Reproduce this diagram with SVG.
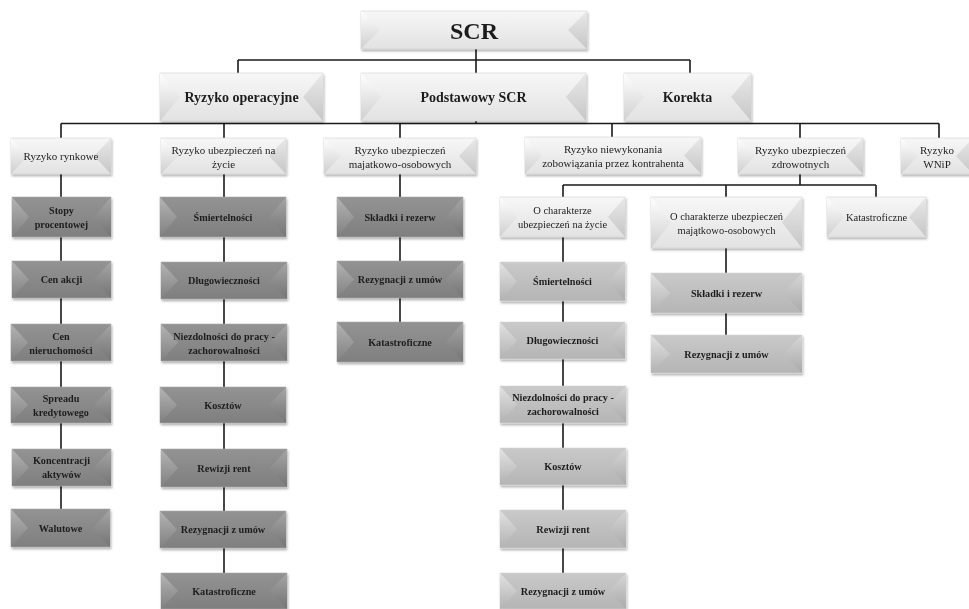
<svg xmlns="http://www.w3.org/2000/svg" width="969" height="609" viewBox="0 0 969 609">
<defs>
<linearGradient id="lf" x1="0" y1="0" x2="0" y2="1"><stop offset="0" stop-color="#f7f7f7"/><stop offset="1" stop-color="#e2e2e2"/></linearGradient>
<linearGradient id="ll" x1="0" y1="0" x2="0" y2="1"><stop offset="0" stop-color="#ffffff"/><stop offset="1" stop-color="#cfcfcf"/></linearGradient>
<linearGradient id="lr" x1="0" y1="0" x2="0" y2="1"><stop offset="0" stop-color="#e9e9e9"/><stop offset="1" stop-color="#c6c6c6"/></linearGradient>
<linearGradient id="df" x1="0" y1="0" x2="0" y2="1"><stop offset="0" stop-color="#939393"/><stop offset="1" stop-color="#7f7f7f"/></linearGradient>
<linearGradient id="dl" x1="0" y1="0" x2="0" y2="1"><stop offset="0" stop-color="#b4b4b4"/><stop offset="1" stop-color="#808080"/></linearGradient>
<linearGradient id="dr" x1="0" y1="0" x2="0" y2="1"><stop offset="0" stop-color="#a6a6a6"/><stop offset="1" stop-color="#747474"/></linearGradient>
<linearGradient id="mf" x1="0" y1="0" x2="0" y2="1"><stop offset="0" stop-color="#c9c9c9"/><stop offset="1" stop-color="#b5b5b5"/></linearGradient>
<linearGradient id="ml" x1="0" y1="0" x2="0" y2="1"><stop offset="0" stop-color="#e2e2e2"/><stop offset="1" stop-color="#b2b2b2"/></linearGradient>
<linearGradient id="mr" x1="0" y1="0" x2="0" y2="1"><stop offset="0" stop-color="#d6d6d6"/><stop offset="1" stop-color="#aaaaaa"/></linearGradient>
<filter id="sh" x="-5%" y="-10%" width="115%" height="135%"><feDropShadow dx="1" dy="2" stdDeviation="1" flood-color="#000" flood-opacity="0.3"/></filter>
</defs>
<style>
.box{filter:url(#sh)}
.lt .f{fill:url(#lf);stroke:#d0d0d0;stroke-width:0.6}
.lt .l{fill:url(#ll)}
.lt .r{fill:url(#lr)}
.dk .f{fill:url(#df);stroke:#a8a8a8;stroke-width:0.6}
.dk .l{fill:url(#dl)}
.dk .r{fill:url(#dr)}
.md .f{fill:url(#mf);stroke:#d4d4d4;stroke-width:0.6}
.md .l{fill:url(#ml)}
.md .r{fill:url(#mr)}
text{font-family:"Liberation Serif","Times New Roman",serif;fill:#1e1e1e;text-anchor:middle}
.t1{font-size:24px;font-weight:bold}
.t2{font-size:14px;font-weight:bold}
.t3{font-size:11px}
.tb{font-size:10.2px;font-weight:bold}
.tr{font-size:10.5px}
#connectors path{fill:none;stroke:#1a1a1a;stroke-width:1.6}
</style>
<rect width="969" height="609" fill="#ffffff"/>
<g id="connectors">
<path d="M476 49V60 M238 60H690 M238 60V73 M476 60V73 M690 60V73"/>
<path d="M476 121V123.5 M61 123.5H939 M61 123.5V138 M224 123.5V138 M400 123.5V138 M612 123.5V137 M800 123.5V138 M939 123.5V138"/>
<path d="M61 174V509 M224 174V573 M400 174V322"/>
<path d="M800 174V185 M563 185H876 M563 185V197 M726 185V197 M876 185V197"/>
<path d="M563 237V573 M726 248V335"/>
</g>

<g id="n-scr" class="box lt"><rect class="f" x="361" y="11" width="226" height="38"/><polygon class="l" points="361,11 380,30 361,49"/><polygon class="r" points="587,11 568,30 587,49"/><text class="t1" x="474" y="39">SCR</text></g>

<g id="n-oper" class="box lt"><rect class="f" x="160" y="73" width="163" height="48"/><polygon class="l" points="160,73 180,97 160,121"/><polygon class="r" points="323,73 303,97 323,121"/><text class="t2" x="241.5" y="102">Ryzyko operacyjne</text></g>
<g id="n-podst" class="box lt"><rect class="f" x="361" y="73" width="225" height="48"/><polygon class="l" points="361,73 381,97 361,121"/><polygon class="r" points="586,73 566,97 586,121"/><text class="t2" x="473.5" y="102">Podstawowy SCR</text></g>
<g id="n-korekta" class="box lt"><rect class="f" x="624" y="73" width="127" height="48"/><polygon class="l" points="624,73 644,97 624,121"/><polygon class="r" points="751,73 731,97 751,121"/><text class="t2" x="687.5" y="102">Korekta</text></g>

<g id="n-rynkowe" class="box lt"><rect class="f" x="11" y="138" width="100" height="36"/><polygon class="l" points="11,138 28,156 11,174"/><polygon class="r" points="111,138 94,156 111,174"/><text class="t3" x="61" y="160">Ryzyko rynkowe</text></g>
<g id="n-zycie" class="box lt"><rect class="f" x="161" y="138" width="125" height="36"/><polygon class="l" points="161,138 178,156 161,174"/><polygon class="r" points="286,138 269,156 286,174"/><text class="t3" x="223.5" y="153.5">Ryzyko ubezpieczeń na</text><text class="t3" x="223.5" y="167.5">życie</text></g>
<g id="n-majatkowe" class="box lt"><rect class="f" x="324" y="138" width="152" height="36"/><polygon class="l" points="324,138 341,156 324,174"/><polygon class="r" points="476,138 459,156 476,174"/><text class="t3" x="400" y="153.5">Ryzyko ubezpieczeń</text><text class="t3" x="400" y="167.5">majatkowo-osobowych</text></g>
<g id="n-kontrahent" class="box lt"><rect class="f" x="525" y="137" width="176" height="37"/><polygon class="l" points="525,137 542,155.5 525,174"/><polygon class="r" points="701,137 684,155.5 701,174"/><text class="t3" x="613" y="153">Ryzyko niewykonania</text><text class="t3" x="613" y="167">zobowiązania przez kontrahenta</text></g>
<g id="n-zdrowotne" class="box lt"><rect class="f" x="738" y="138" width="125" height="36"/><polygon class="l" points="738,138 755,156 738,174"/><polygon class="r" points="863,138 846,156 863,174"/><text class="t3" x="800.5" y="153.5">Ryzyko ubezpieczeń</text><text class="t3" x="800.5" y="167.5">zdrowotnych</text></g>
<g id="n-wnip" class="box lt"><rect class="f" x="901" y="138" width="72" height="36"/><polygon class="l" points="901,138 918,156 901,174"/><polygon class="r" points="973,138 956,156 973,174"/><text class="t3" x="937" y="153.5">Ryzyko</text><text class="t3" x="937" y="167.5">WNiP</text></g>

<g id="n-stopy" class="box dk"><rect class="f" x="12" y="197" width="99" height="40"/><polygon class="l" points="12,197 29,217 12,237"/><polygon class="r" points="111,197 94,217 111,237"/><text class="tb" x="61.5" y="213.5">Stopy</text><text class="tb" x="61.5" y="227.5">procentowej</text></g>
<g id="n-akcji" class="box dk"><rect class="f" x="12" y="261" width="99" height="37"/><polygon class="l" points="12,261 29,279.5 12,298"/><polygon class="r" points="111,261 94,279.5 111,298"/><text class="tb" x="61.5" y="283">Cen akcji</text></g>
<g id="n-nieruch" class="box dk"><rect class="f" x="11" y="324" width="100" height="37"/><polygon class="l" points="11,324 28,342.5 11,361"/><polygon class="r" points="111,324 94,342.5 111,361"/><text class="tb" x="61" y="340">Cen</text><text class="tb" x="61" y="354">nieruchomości</text></g>
<g id="n-spread" class="box dk"><rect class="f" x="11" y="387" width="100" height="36"/><polygon class="l" points="11,387 28,405 11,423"/><polygon class="r" points="111,387 94,405 111,423"/><text class="tb" x="61" y="401.5">Spreadu</text><text class="tb" x="61" y="415.5">kredytowego</text></g>
<g id="n-koncentr" class="box dk"><rect class="f" x="12" y="449" width="99" height="37"/><polygon class="l" points="12,449 29,467.5 12,486"/><polygon class="r" points="111,449 94,467.5 111,486"/><text class="tb" x="61.5" y="464">Koncentracji</text><text class="tb" x="61.5" y="478">aktywów</text></g>
<g id="n-walutowe" class="box dk"><rect class="f" x="11" y="509" width="99" height="38"/><polygon class="l" points="11,509 28,528 11,547"/><polygon class="r" points="110,509 93,528 110,547"/><text class="tb" x="60.5" y="531.5">Walutowe</text></g>

<g id="n-z-smiert" class="box dk"><rect class="f" x="160" y="197" width="126" height="40"/><polygon class="l" points="160,197 177,217 160,237"/><polygon class="r" points="286,197 269,217 286,237"/><text class="tb" x="223" y="220.5">Śmiertelności</text></g>
<g id="n-z-dlugo" class="box dk"><rect class="f" x="161" y="262" width="126" height="37"/><polygon class="l" points="161,262 178,280.5 161,299"/><polygon class="r" points="287,262 270,280.5 287,299"/><text class="tb" x="224" y="284">Długowieczności</text></g>
<g id="n-z-niezd" class="box dk"><rect class="f" x="161" y="324" width="126" height="37"/><polygon class="l" points="161,324 178,342.5 161,361"/><polygon class="r" points="287,324 270,342.5 287,361"/><text class="tb" x="224" y="340">Niezdolności do pracy -</text><text class="tb" x="224" y="354">zachorowalności</text></g>
<g id="n-z-koszt" class="box dk"><rect class="f" x="160" y="387" width="126" height="36"/><polygon class="l" points="160,387 177,405 160,423"/><polygon class="r" points="286,387 269,405 286,423"/><text class="tb" x="223" y="408.5">Kosztów</text></g>
<g id="n-z-rent" class="box dk"><rect class="f" x="161" y="449" width="126" height="38"/><polygon class="l" points="161,449 178,468 161,487"/><polygon class="r" points="287,449 270,468 287,487"/><text class="tb" x="224" y="471.5">Rewizji rent</text></g>
<g id="n-z-rezyg" class="box dk"><rect class="f" x="160" y="511" width="126" height="37"/><polygon class="l" points="160,511 177,529.5 160,548"/><polygon class="r" points="286,511 269,529.5 286,548"/><text class="tb" x="223" y="533">Rezygnacji z umów</text></g>
<g id="n-z-katastr" class="box dk"><rect class="f" x="161" y="573" width="126" height="36"/><polygon class="l" points="161,573 178,591 161,609"/><polygon class="r" points="287,573 270,591 287,609"/><text class="tb" x="224" y="594.5">Katastroficzne</text></g>

<g id="n-m-skladki" class="box dk"><rect class="f" x="337" y="197" width="126" height="40"/><polygon class="l" points="337,197 354,217 337,237"/><polygon class="r" points="463,197 446,217 463,237"/><text class="tb" x="400" y="220.5">Składki i rezerw</text></g>
<g id="n-m-rezyg" class="box dk"><rect class="f" x="337" y="261" width="126" height="37"/><polygon class="l" points="337,261 354,279.5 337,298"/><polygon class="r" points="463,261 446,279.5 463,298"/><text class="tb" x="400" y="283">Rezygnacji z umów</text></g>
<g id="n-m-katastr" class="box dk"><rect class="f" x="337" y="322" width="126" height="40"/><polygon class="l" points="337,322 354,342 337,362"/><polygon class="r" points="463,322 446,342 463,362"/><text class="tb" x="400" y="345.5">Katastroficzne</text></g>

<g id="n-h-zycie" class="box lt"><rect class="f" x="500" y="197" width="125" height="40"/><polygon class="l" points="500,197 517,217 500,237"/><polygon class="r" points="625,197 608,217 625,237"/><text class="tr" x="562.5" y="213.5">O charakterze</text><text class="tr" x="562.5" y="227.5">ubezpieczeń na życie</text></g>
<g id="n-h-majatk" class="box lt"><rect class="f" x="651" y="197" width="151" height="51"/><polygon class="l" points="651,197 671,222.5 651,248"/><polygon class="r" points="802,197 782,222.5 802,248"/><text class="tr" x="726.5" y="219.5">O charakterze ubezpieczeń</text><text class="tr" x="726.5" y="233.5">majątkowo-osobowych</text></g>
<g id="n-h-katastr" class="box lt"><rect class="f" x="827" y="197" width="99" height="40"/><polygon class="l" points="827,197 844,217 827,237"/><polygon class="r" points="926,197 909,217 926,237"/><text class="tr" x="876.5" y="220.5">Katastroficzne</text></g>

<g id="n-hz-smiert" class="box md"><rect class="f" x="500" y="262" width="125" height="39"/><polygon class="l" points="500,262 517,281.5 500,301"/><polygon class="r" points="625,262 608,281.5 625,301"/><text class="tb" x="562.5" y="285">Śmiertelności</text></g>
<g id="n-hz-dlugo" class="box md"><rect class="f" x="500" y="322" width="125" height="37"/><polygon class="l" points="500,322 517,340.5 500,359"/><polygon class="r" points="625,322 608,340.5 625,359"/><text class="tb" x="562.5" y="344">Długowieczności</text></g>
<g id="n-hz-niezd" class="box md"><rect class="f" x="500" y="386" width="126" height="37"/><polygon class="l" points="500,386 517,404.5 500,423"/><polygon class="r" points="626,386 609,404.5 626,423"/><text class="tb" x="563" y="401">Niezdolności do pracy -</text><text class="tb" x="563" y="415">zachorowalności</text></g>
<g id="n-hz-koszt" class="box md"><rect class="f" x="500" y="448" width="126" height="37"/><polygon class="l" points="500,448 517,466.5 500,485"/><polygon class="r" points="626,448 609,466.5 626,485"/><text class="tb" x="563" y="470">Kosztów</text></g>
<g id="n-hz-rent" class="box md"><rect class="f" x="500" y="510" width="126" height="38"/><polygon class="l" points="500,510 517,529 500,548"/><polygon class="r" points="626,510 609,529 626,548"/><text class="tb" x="563" y="532.5">Rewizji rent</text></g>
<g id="n-hz-rezyg" class="box md"><rect class="f" x="500" y="573" width="126" height="36"/><polygon class="l" points="500,573 517,591 500,609"/><polygon class="r" points="626,573 609,591 626,609"/><text class="tb" x="563" y="594.5">Rezygnacji z umów</text></g>

<g id="n-hm-skladki" class="box md"><rect class="f" x="651" y="273" width="151" height="40"/><polygon class="l" points="651,273 670,293 651,313"/><polygon class="r" points="802,273 783,293 802,313"/><text class="tb" x="726.5" y="296.5">Składki i rezerw</text></g>
<g id="n-hm-rezyg" class="box md"><rect class="f" x="651" y="335" width="151" height="38"/><polygon class="l" points="651,335 670,354 651,373"/><polygon class="r" points="802,335 783,354 802,373"/><text class="tb" x="726.5" y="357.5">Rezygnacji z umów</text></g>
</svg>
